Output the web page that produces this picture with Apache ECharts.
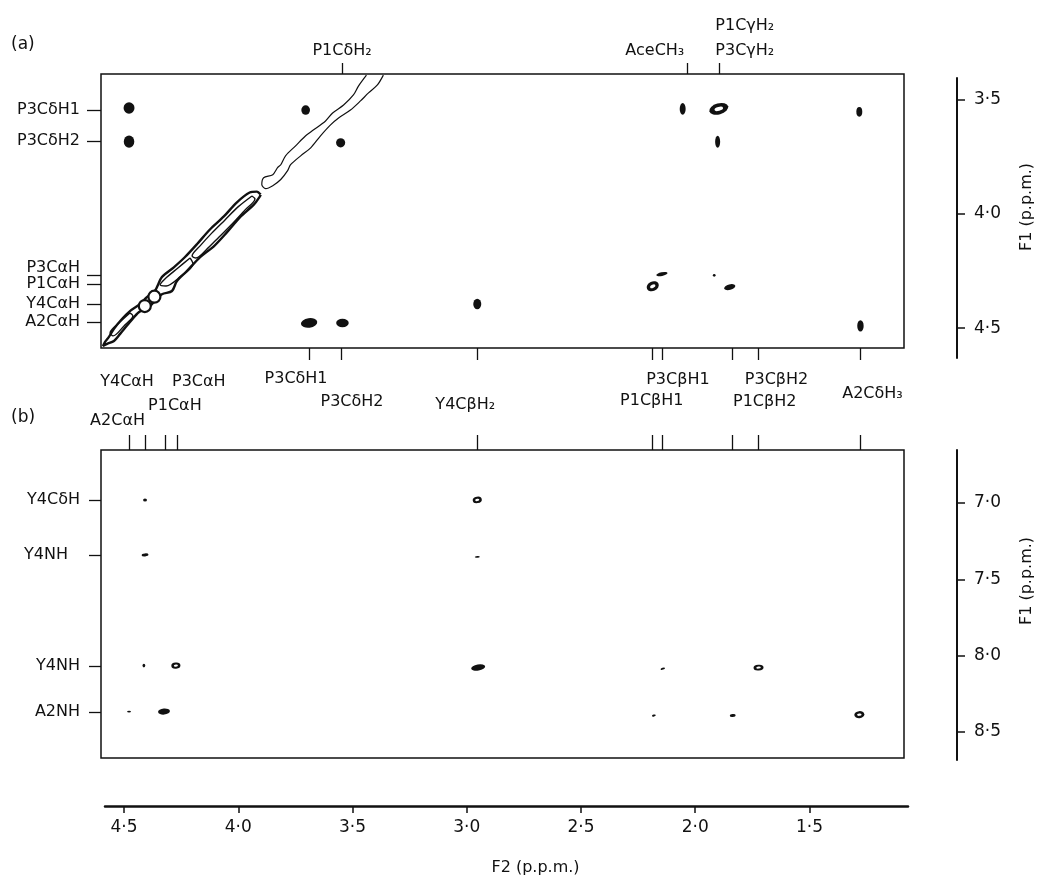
<!DOCTYPE html>
<html><head><meta charset="utf-8">
<script src="https://cdn.jsdelivr.net/npm/echarts@6/dist/echarts.min.js"></script>
<style>html,body{margin:0;padding:0;background:#fff}#c{width:1047px;height:878px}</style>
</head><body><div id="c"></div><script>
// ---------------- data (ppm) ----------------
const f2TickValues = [4.5, 4.0, 3.5, 3.0, 2.5, 2.0, 1.5];
const f1TickValuesA = [3.5, 4.0, 4.5];
const f1TickValuesB = [7.0, 7.5, 8.0, 8.5];

const topAValues = [3.546, 2.037, 1.897];
const topANames = ['P1CδH₂', 'AceCH₃', 'P1CγH₂\nP3CγH₂'];
const leftAValues = [3.544, 3.679, 4.269, 4.308, 4.395, 4.474];
const leftANames = ['P3CδH1', 'P3CδH2', 'P3CαH', 'P1CαH', 'Y4CαH', 'A2CαH'];
const bottomATicks = [3.688, 3.548, 2.954, 2.190, 2.146, 1.836, 1.723, 1.277];
const bottomALabelValues = [3.688, 3.548];
const bottomANames = ['P3CδH1', 'P3CδH2'];
const topBValues = [4.478, 4.408, 4.321, 4.269, 2.954, 2.190, 2.146, 1.836, 1.723, 1.277];
const topBNames = ['A2CαH', 'Y4CαH', 'P1CαH', 'P3CαH', 'Y4CβH₂', 'P1CβH1', 'P3CβH1', 'P1CβH2', 'P3CβH2', 'A2CδH₃'];
const leftBValues = [6.980, 7.341, 8.067, 8.369];
const leftBNames = ['Y4CδH', 'Y4NH', 'Y4NH', 'A2NH'];

// cross peaks: [F2, F1, width F2 (ppm), width F1 (ppm), tilt (deg), hollow centre]
const peaksA = [
  [4.478, 3.535, 0.048, 0.050, 0, 0],
  [4.478, 3.683, 0.046, 0.054, 0, 0],
  [3.705, 3.544, 0.038, 0.042, 0, 0],
  [3.552, 3.688, 0.040, 0.040, 0, 0],
  [2.954, 4.395, 0.035, 0.046, 0, 0],
  [3.690, 4.478, 0.072, 0.042, 8, 0],
  [3.544, 4.478, 0.055, 0.037, 0, 0],
  [2.055, 3.539, 0.026, 0.052, 0, 0],
  [1.897, 3.539, 0.085, 0.048, 15, 1],
  [1.282, 3.552, 0.026, 0.042, 0, 0],
  [1.902, 3.683, 0.022, 0.052, 0, 0],
  [2.146, 4.264, 0.050, 0.016, 12, 0],
  [2.186, 4.317, 0.055, 0.042, 25, 1],
  [1.917, 4.269, 0.012, 0.012, 0, 0],
  [1.849, 4.321, 0.050, 0.024, 15, 0],
  [1.277, 4.491, 0.028, 0.050, 0, 0]
];
const peaksB = [
  [4.408, 6.980, 0.017, 0.020, 0, 0],
  [2.954, 6.980, 0.040, 0.042, 10, 1],
  [4.408, 7.340, 0.030, 0.020, 5, 0],
  [2.954, 7.353, 0.022, 0.012, 5, 0],
  [4.413, 8.065, 0.012, 0.024, 0, 0],
  [4.273, 8.065, 0.040, 0.040, 5, 1],
  [2.950, 8.078, 0.062, 0.040, 10, 0],
  [4.478, 8.366, 0.017, 0.012, 0, 0],
  [4.325, 8.366, 0.052, 0.040, 5, 0],
  [2.142, 8.085, 0.020, 0.013, 20, 0],
  [1.723, 8.078, 0.044, 0.038, 5, 1],
  [2.181, 8.392, 0.017, 0.013, 15, 0],
  [1.836, 8.392, 0.026, 0.020, 5, 0],
  [1.282, 8.386, 0.044, 0.046, 5, 1]
];

// diagonal contours [F2, F1]
const diagUpper = [[3.439,3.391],[3.474,3.439],[3.496,3.478],[3.539,3.522],[3.587,3.557],[3.618,3.592],[3.670,3.631],[3.705,3.657],[3.749,3.701],[3.793,3.745],[3.814,3.784],[3.828,3.797],[3.849,3.828],[3.889,3.841],[3.897,3.871],[3.880,3.889],[3.849,3.876],[3.814,3.849],[3.784,3.810],[3.771,3.784],[3.727,3.745],[3.683,3.710],[3.640,3.657],[3.596,3.609],[3.561,3.579],[3.509,3.544],[3.465,3.504],[3.430,3.469],[3.391,3.434],[3.365,3.391]];
const diagLower = [[3.902,3.915],[3.919,3.902],[3.950,3.906],[4.007,3.950],[4.063,4.011],[4.124,4.068],[4.181,4.133],[4.234,4.190],[4.282,4.234],[4.334,4.277],[4.365,4.338],[4.400,4.365],[4.430,4.395],[4.474,4.426],[4.509,4.461],[4.544,4.504],[4.566,4.539],[4.583,4.561],[4.592,4.579],[4.574,4.570],[4.544,4.557],[4.517,4.526],[4.474,4.474],[4.434,4.430],[4.400,4.417],[4.369,4.386],[4.334,4.352],[4.290,4.338],[4.269,4.295],[4.225,4.251],[4.168,4.190],[4.107,4.142],[4.050,4.081],[3.993,4.015],[3.932,3.959],[3.906,3.924],[3.902,3.915]];
const diagInner1 = [[3.940,3.921],[4.001,3.969],[4.058,4.026],[4.115,4.083],[4.167,4.140],[4.202,4.184],[4.185,4.193],[4.141,4.158],[4.084,4.101],[4.027,4.044],[3.970,3.982],[3.927,3.934],[3.940,3.921]];
const diagInner2 = [[4.211,4.193],[4.264,4.237],[4.321,4.285],[4.342,4.311],[4.316,4.316],[4.255,4.276],[4.198,4.219],[4.211,4.193]];
const diagInner3 = [[4.474,4.434],[4.518,4.474],[4.561,4.522],[4.548,4.535],[4.500,4.491],[4.461,4.447],[4.474,4.434]];
const diagLobes = [[4.367,4.363],[4.409,4.404]];

// ---------------- styles / layout ----------------
const FONT = 'DejaVu Sans';
const INK = '#111';
const X_MIN = 1.0864, X_MAX = 4.6007;
const YA_MIN = 3.386, YA_MAX = 4.588;
const YB_MIN = 6.653, YB_MAX = 8.670;
const padsTopA = [[0,0,4,0],[0,64,4,0],[0,0,4,52]];
const padsLeftA = [[0,0,0,0],[0,0,0,0],[0,0,14,0],[0,0,0,0],[0,0,0,0],[0,0,0,0]];
const padsBottomA = [[30,27,0,0],[76,0,0,21]];
const padsTopB = [[0,23,26,0],[0,36,104,0],[0,0,56,20],[0,0,104,44],[0,24,58,0],[0,0,66,0],[0,0,108,32],[0,0,64,64],[0,0,108,36],[0,0,80,24]];
const padsLeftB = [[0,0,0,0],[0,12,0,0],[0,0,0,0],[0,0,0,0]];

// guard entries at the axis ends (hidden) keep the library from dropping overlapping annotation labels
function guarded(list, lo, hi) { return [lo + 0.0008].concat(list, [hi - 0.0008]); }

function richLabels(values, names, pads, base, margin, lo, hi) {
  const rich = {};
  names.forEach((n, i) => {
    const lines = n.split('\n');
    const p = pads[i];
    lines.forEach((ln, k) => {
      rich['r' + i + '_' + k] = Object.assign({}, base, {
        padding: [k === 0 ? p[0] : 0, p[1], k === lines.length - 1 ? p[2] : 0, p[3]]
      });
    });
  });
  return {
    customValues: guarded(values, lo, hi),
    margin: margin,
    showMinLabel: false,
    showMaxLabel: false,
    hideOverlap: false,
    formatter: function (v) {
      const i = values.findIndex(x => Math.abs(x - v) < 1e-6);
      if (i < 0) return '';
      return names[i].split('\n').map((ln, k) => '{r' + i + '_' + k + '|' + ln + '}').join('\n');
    },
    rich: rich
  };
}
function annTicks(list, length, lo, hi) {
  return {show: true, customValues: guarded(list, lo, hi), length: length, lineStyle: {color: INK, width: 1.3}};
}
const base16 = {fontFamily: FONT, fontSize: 16, color: INK, lineHeight: 16};
const base27 = {fontFamily: FONT, fontSize: 16, color: INK, lineHeight: 27};
const numFmt = v => v.toFixed(1).replace('.', '·');
const numLabel = {fontFamily: FONT, fontSize: 17, color: INK, showMinLabel: true, showMaxLabel: true};

function hidden(gridIndex) {
  return {gridIndex: gridIndex, type: 'value', show: false, min: 0, max: 1, splitLine: {show: false}};
}

function renderPeak(params, api) {
  const c = api.coord([api.value(0), api.value(1)]);
  const s = api.size([api.value(2), api.value(3)]);
  const rot = api.value(4) * Math.PI / 180;
  const rx = s[0] / 2, ry = s[1] / 2;
  const kids = [{type: 'circle', shape: {cx: 0, cy: 0, r: 1}, x: c[0], y: c[1], scaleX: rx, scaleY: ry, rotation: rot, style: {fill: INK}}];
  if (api.value(5)) {
    kids.push({type: 'circle', shape: {cx: 0, cy: 0, r: 1}, x: c[0], y: c[1], scaleX: rx * 0.45, scaleY: ry * 0.35, rotation: rot, style: {fill: '#fff'}});
  }
  return {type: 'group', children: kids};
}

function contour(data, width) {
  return {type: 'line', xAxisIndex: 0, yAxisIndex: 0, data: data, showSymbol: false, symbol: 'none',
    smooth: 0.3, clip: true, lineStyle: {color: INK, width: width}, silent: true, z: 3};
}

const chart = echarts.init(document.getElementById('c'), null, {renderer: 'canvas'});
chart.setOption({
  animation: false,
  backgroundColor: '#fff',
  grid: [
    {left: 101, top: 74, width: 803, height: 274, show: true, borderColor: INK, borderWidth: 1.5},
    {left: 101, top: 450, width: 803, height: 308, show: true, borderColor: INK, borderWidth: 1.5},
    {left: 956, top: 78, width: 1, height: 280},
    {left: 956, top: 450, width: 1, height: 310},
    {left: 105, top: 805, width: 803, height: 1}
  ],
  xAxis: [
    {gridIndex: 0, type: 'value', position: 'top', min: X_MIN, max: X_MAX, inverse: true,
     axisLine: {show: false}, splitLine: {show: false},
     axisTick: annTicks(topAValues, 11, X_MIN, X_MAX),
     axisLabel: richLabels(topAValues, topANames, padsTopA, base27, 8, X_MIN, X_MAX)},
    {gridIndex: 0, type: 'value', position: 'bottom', min: X_MIN, max: X_MAX, inverse: true,
     axisLine: {show: false, onZero: false}, splitLine: {show: false},
     axisTick: annTicks(bottomATicks, 12, X_MIN, X_MAX),
     axisLabel: richLabels(bottomALabelValues, bottomANames, padsBottomA, base16, 8, X_MIN, X_MAX)},
    {gridIndex: 1, type: 'value', position: 'top', min: X_MIN, max: X_MAX, inverse: true,
     axisLine: {show: false}, splitLine: {show: false},
     axisTick: annTicks(topBValues, 15, X_MIN, X_MAX),
     axisLabel: richLabels(topBValues, topBNames, padsTopB, base16, 8, X_MIN, X_MAX)},
    hidden(2),
    hidden(3),
    {gridIndex: 4, type: 'value', position: 'bottom', min: 1.0689, max: 4.5832, inverse: true,
     axisLine: {show: true, onZero: false, lineStyle: {color: INK, width: 2.5}}, splitLine: {show: false},
     axisTick: {show: true, customValues: f2TickValues, length: 7, lineStyle: {color: INK, width: 1.5}},
     axisLabel: Object.assign({customValues: f2TickValues, formatter: numFmt, margin: 13}, numLabel),
     name: 'F2 (p.p.m.)', nameLocation: 'middle', nameGap: 54,
     nameTextStyle: {fontFamily: FONT, fontSize: 16, color: INK, padding: [0, 0, 0, 58]}}
  ],
  yAxis: [
    {gridIndex: 0, type: 'value', position: 'left', min: YA_MIN, max: YA_MAX, inverse: true,
     axisLine: {show: false, onZero: false}, splitLine: {show: false},
     axisTick: annTicks(leftAValues, 14, YA_MIN, YA_MAX),
     axisLabel: richLabels(leftAValues, leftANames, padsLeftA, base16, 21, YA_MIN, YA_MAX)},
    {gridIndex: 1, type: 'value', position: 'left', min: YB_MIN, max: YB_MAX, inverse: true,
     axisLine: {show: false, onZero: false}, splitLine: {show: false},
     axisTick: annTicks(leftBValues, 12, YB_MIN, YB_MAX),
     axisLabel: richLabels(leftBValues, leftBNames, padsLeftB, base16, 21, YB_MIN, YB_MAX)},
    {gridIndex: 2, type: 'value', position: 'right', min: 3.404, max: 4.631, inverse: true,
     axisLine: {show: true, onZero: false, lineStyle: {color: INK, width: 2}}, splitLine: {show: false},
     axisTick: {show: true, customValues: f1TickValuesA, length: 8, lineStyle: {color: INK, width: 1.5}},
     axisLabel: Object.assign({customValues: f1TickValuesA, formatter: numFmt, margin: 17}, numLabel),
     name: 'F1 (p.p.m.)', nameLocation: 'middle', nameRotate: 90, nameGap: 62,
     nameTextStyle: {fontFamily: FONT, fontSize: 16, color: INK, padding: [0, 0, 0, 22]}},
    {gridIndex: 3, type: 'value', position: 'right', min: 6.653, max: 8.683, inverse: true,
     axisLine: {show: true, onZero: false, lineStyle: {color: INK, width: 2}}, splitLine: {show: false},
     axisTick: {show: true, customValues: f1TickValuesB, length: 8, lineStyle: {color: INK, width: 1.5}},
     axisLabel: Object.assign({customValues: f1TickValuesB, formatter: numFmt, margin: 17}, numLabel),
     name: 'F1 (p.p.m.)', nameLocation: 'middle', nameRotate: 90, nameGap: 62,
     nameTextStyle: {fontFamily: FONT, fontSize: 16, color: INK, padding: [0, 0, 0, 48]}},
    hidden(4)
  ],
  graphic: [
    {type: 'text', left: 11, top: 36, style: {text: '(a)', fontFamily: FONT, fontSize: 17, fill: INK}},
    {type: 'text', left: 11, top: 409, style: {text: '(b)', fontFamily: FONT, fontSize: 17, fill: INK}}
  ],
  series: [
    {type: 'custom', xAxisIndex: 0, yAxisIndex: 0, data: peaksA, renderItem: renderPeak, clip: true,
     encode: {x: 0, y: 1}, silent: true, z: 4},
    {type: 'custom', xAxisIndex: 2, yAxisIndex: 1, data: peaksB, renderItem: renderPeak, clip: true,
     encode: {x: 0, y: 1}, silent: true, z: 4},
    contour(diagUpper, 1.2),
    contour(diagLower, 2.4),
    contour(diagInner1, 1.4),
    contour(diagInner2, 1.4),
    contour(diagInner3, 1.4),
    {type: 'scatter', xAxisIndex: 0, yAxisIndex: 0, data: diagLobes, symbol: 'circle', symbolSize: 12,
     itemStyle: {color: '#fff', borderColor: INK, borderWidth: 2.2, opacity: 1}, silent: true, z: 5}
  ]
});
</script></body></html>
